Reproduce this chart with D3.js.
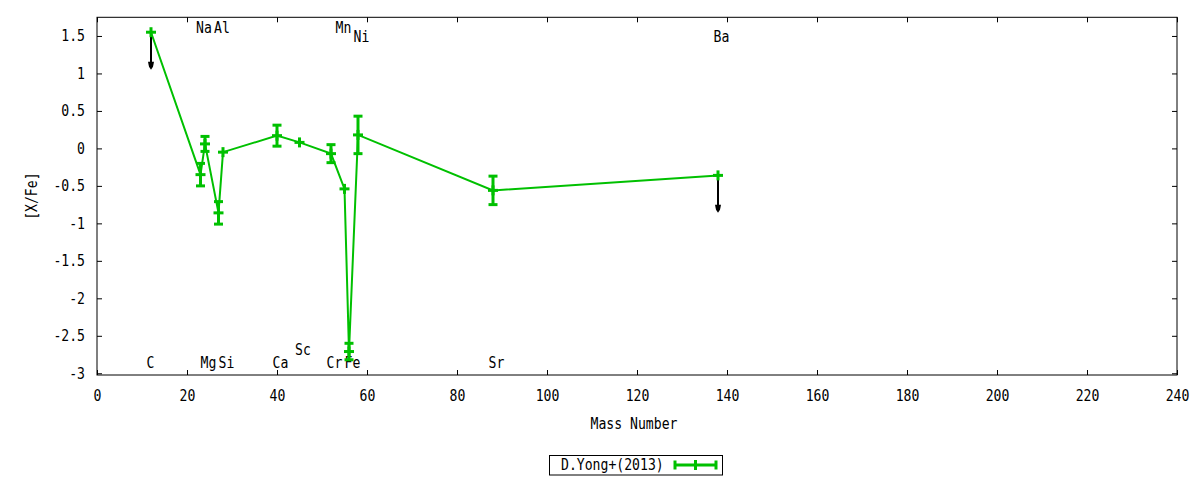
<!DOCTYPE html>
<html>
<head>
<meta charset="utf-8">
<script src="https://cdn.jsdelivr.net/npm/d3@7"></script>
<style>
  html, body { margin: 0; padding: 0; background: #fff; }
  svg { display: block; }
  text { font-family: "DejaVu Sans Mono", monospace; font-size: 15px; fill: #000; }
</style>
</head>
<body>
<svg id="chart" width="1200" height="480"></svg>
<script>
// ---- data ----
const elements   = ["C", "Na", "Mg", "Al", "Si", "Ca", "Sc", "Cr", "Mn", "Fe", "Ni", "Sr", "Ba"];
const massNumber = [12, 23, 24, 27, 28, 40, 45, 52, 55, 56, 58, 88, 138];
const xfe        = [1.55, -0.35, 0.06, -0.86, -0.05, 0.17, 0.08, -0.07, -0.54, -2.71, 0.18, -0.56, -0.36];
const xfeErr     = [0, 0.15, 0.10, 0.15, 0, 0.14, 0, 0.12, 0, 0.11, 0.25, 0.19, 0];
const upperLimit = [true, false, false, false, false, false, false, false, false, false, false, false, true];
const limitArrowLength = 0.5;
// element label anchor points (data units)
const labelX = [11, 22, 23, 26, 27, 39, 44, 51, 53, 55, 57, 87, 137];
const labelY = [-2.86, 1.61, -2.86, 1.61, -2.86, -2.86, -2.68, -2.86, 1.61, -2.86, 1.49, -2.86, 1.49];
const xTicks = [0, 20, 40, 60, 80, 100, 120, 140, 160, 180, 200, 220, 240];
const yTicks = [-3, -2.5, -2, -1.5, -1, -0.5, 0, 0.5, 1, 1.5];
const yTickLabels = ["-3", "-2.5", "-2", "-1.5", "-1", "-0.5", "0", "0.5", "1", "1.5"];
const seriesName = "D.Yong+(2013)";
const xTitle = "Mass Number";
const yTitle = "[X/Fe]";

// ---- layout ----
const L = 97, R = 1177, T = 17.3, B = 375;
const green = "#00c000";
const charW = 7.9;
const svg = d3.select("#chart");

const x = d3.scaleLinear().domain([0, 240]).range([L, R]);
const y = d3.scaleLinear().domain([-3.023, 1.749]).range([B, T]);

const rows = elements.map((e, i) => ({
  el: e, m: massNumber[i], v: xfe[i], err: xfeErr[i], ul: upperLimit[i],
  lx: labelX[i], ly: labelY[i]
}));

// condensed monospace look
function condense(sel) {
  sel.each(function () {
    const n = this.textContent.length;
    if (n) {
      this.setAttribute("textLength", n * charW);
      this.setAttribute("lengthAdjust", "spacingAndGlyphs");
    }
  });
}

// axes with inward ticks (mirrored)
const tickLen = 5;
const fmtY = v => yTickLabels[yTicks.indexOf(v)];
svg.append("g").attr("transform", `translate(0,${B})`)
  .call(d3.axisBottom(x).tickValues(xTicks).tickSizeInner(-tickLen).tickSizeOuter(0).tickPadding(15).tickFormat(d3.format("d")));
svg.append("g").attr("transform", `translate(0,${T})`)
  .call(d3.axisTop(x).tickValues(xTicks).tickSizeInner(-tickLen).tickSizeOuter(0).tickFormat(""));
svg.append("g").attr("transform", `translate(${L},0)`)
  .call(d3.axisLeft(y).tickValues(yTicks).tickSizeInner(-tickLen).tickSizeOuter(0).tickPadding(12).tickFormat(fmtY));
svg.append("g").attr("transform", `translate(${R},0)`)
  .call(d3.axisRight(y).tickValues(yTicks).tickSizeInner(-tickLen).tickSizeOuter(0).tickFormat(""));
svg.selectAll(".domain").remove();
svg.selectAll(".tick line").attr("stroke", "#000").attr("stroke-width", 1);
svg.selectAll(".tick text").style("font-family", "DejaVu Sans Mono, monospace").style("font-size", "15px").attr("fill", "#000");
svg.selectAll(".tick text").call(condense);

// frame
svg.append("rect").attr("x", L).attr("y", T).attr("width", R - L).attr("height", B - T)
  .attr("fill", "none").attr("stroke", "#000").attr("stroke-width", 1);

// titles
svg.append("text").attr("x", (L + R) / 2 - 3).attr("y", 424).attr("dy", "0.36em")
  .attr("text-anchor", "middle").text(xTitle).call(condense);
svg.append("text").attr("transform", `translate(32,${(T + B) / 2}) rotate(-90)`)
  .attr("dy", "0.36em").attr("text-anchor", "middle").text(yTitle).call(condense);

// element labels
svg.append("g").selectAll("text").data(rows).join("text")
  .attr("x", d => x(d.lx)).attr("y", d => y(d.ly)).attr("dy", "0.36em")
  .attr("text-anchor", "start").text(d => d.el).call(condense);

// connecting line
const plot = svg.append("g");
plot.append("path").datum(rows)
  .attr("d", d3.line().x(d => x(d.m)).y(d => y(d.v)))
  .attr("fill", "none").attr("stroke", green).attr("stroke-width", 2);

// upper-limit arrows
const arrows = plot.append("g");
rows.filter(d => d.ul).forEach(d => {
  const cx = x(d.m), y0 = y(d.v), y1 = y(d.v - limitArrowLength);
  arrows.append("line").attr("x1", cx).attr("x2", cx).attr("y1", y0).attr("y2", y1 - 6)
    .attr("stroke", "#000").attr("stroke-width", 2);
  arrows.append("path")
    .attr("d", `M${cx - 3},${y1 - 8} L${cx + 3},${y1 - 8} L${cx + 2},${y1 - 3} L${cx},${y1} L${cx - 2},${y1 - 3} Z`)
    .attr("fill", "#000");
});

// error bars + markers
const capW = 4.5, mk = 5;
const eb = plot.append("g").attr("stroke", green).attr("stroke-width", 3);
rows.forEach(d => {
  const cx = x(d.m), cy = y(d.v), yt = y(d.v + d.err), yb = y(d.v - d.err);
  if (d.err > 0) {
    eb.append("line").attr("x1", cx).attr("x2", cx).attr("y1", yt).attr("y2", yb);
    eb.append("line").attr("x1", cx - capW).attr("x2", cx + capW).attr("y1", yt).attr("y2", yt);
    eb.append("line").attr("x1", cx - capW).attr("x2", cx + capW).attr("y1", yb).attr("y2", yb);
  }
  eb.append("line").attr("x1", cx - mk).attr("x2", cx + mk).attr("y1", cy).attr("y2", cy);
  eb.append("line").attr("x1", cx).attr("x2", cx).attr("y1", cy - mk).attr("y2", cy + mk);
});

// legend
const lg = svg.append("g");
lg.append("rect").attr("x", 549.5).attr("y", 455.5).attr("width", 173).attr("height", 19.5)
  .attr("fill", "#fff").attr("stroke", "#000").attr("stroke-width", 1);
lg.append("text").attr("x", 561).attr("y", 465).attr("dy", "0.36em").text(seriesName).call(condense);
const lx0 = 675, lx1 = 716, ly = 465;
lg.append("line").attr("x1", lx0).attr("x2", lx1).attr("y1", ly).attr("y2", ly)
  .attr("stroke", green).attr("stroke-width", 3);
[lx0, lx1].forEach(px => lg.append("line").attr("x1", px).attr("x2", px).attr("y1", ly - 4.5).attr("y2", ly + 4.5)
  .attr("stroke", green).attr("stroke-width", 3));
const lm = (lx0 + lx1) / 2;
lg.append("line").attr("x1", lm).attr("x2", lm).attr("y1", ly - mk).attr("y2", ly + mk)
  .attr("stroke", green).attr("stroke-width", 3);
</script>
</body>
</html>
